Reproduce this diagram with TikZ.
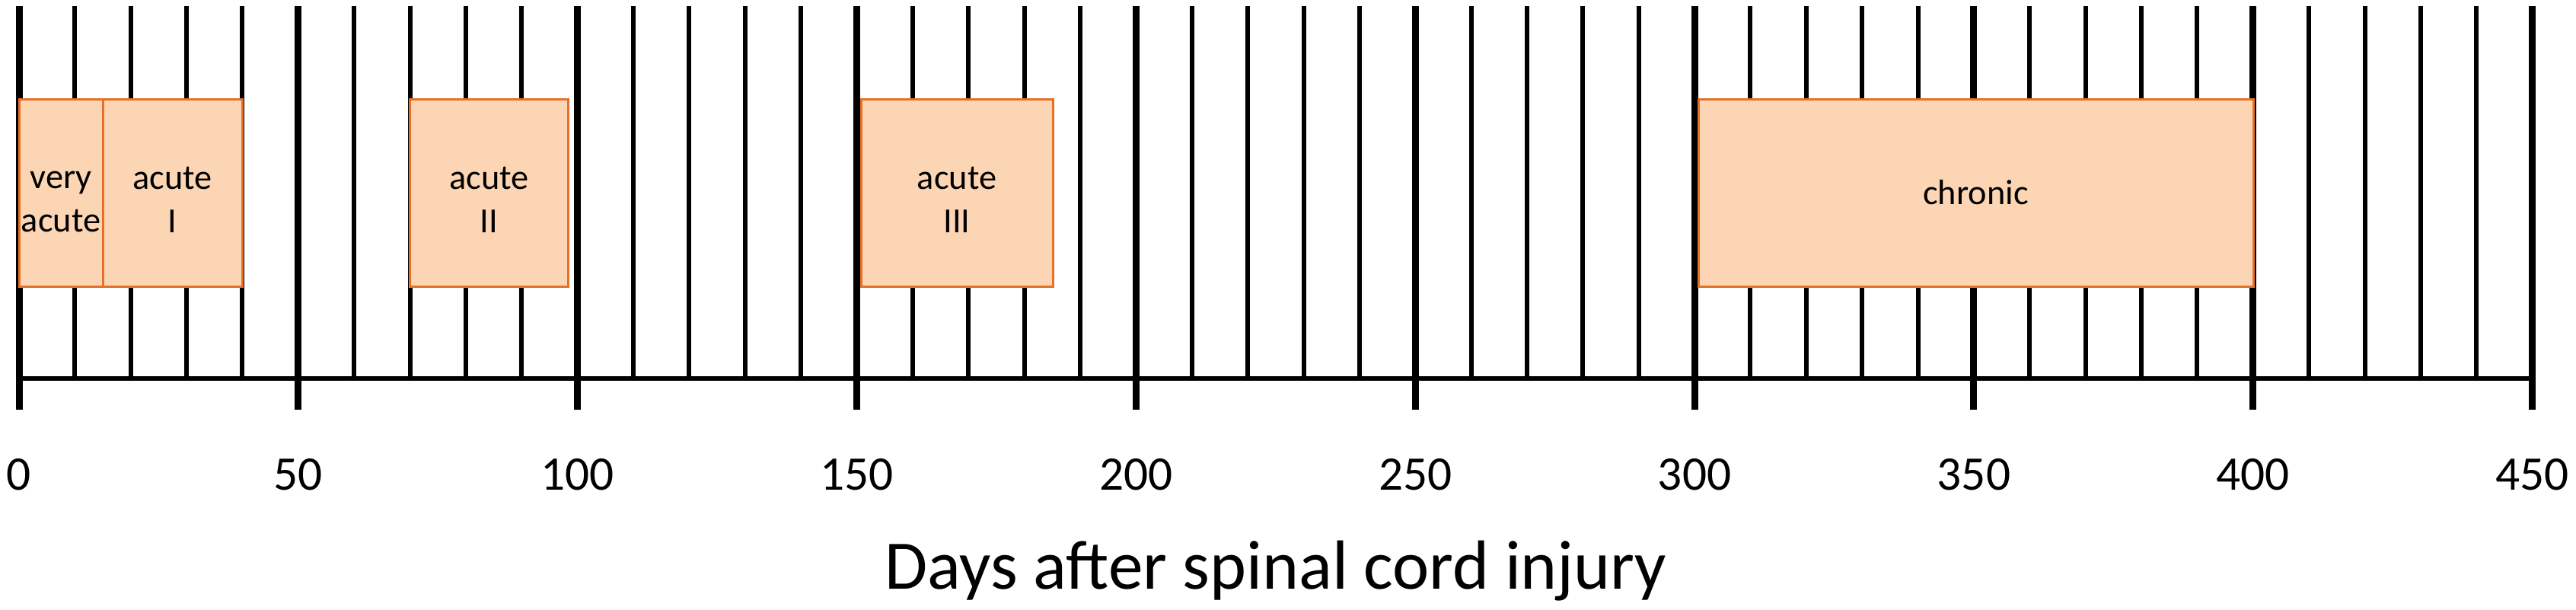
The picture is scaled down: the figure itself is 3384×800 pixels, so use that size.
\documentclass[tikz,border=0pt]{standalone}
\usepackage{fontspec}
\setmainfont{Carlito}
\definecolor{phasefill}{RGB}{252,213,180}
\definecolor{phasedraw}{RGB}{229,113,40}
\newcommand{\toprule}{\rule{0pt}{14.1pt}}
\begin{document}
\begin{tikzpicture}[x=0.3pt,y=-0.3pt,
  majorline/.style={line width=2.7pt},
  minorline/.style={line width=1.8pt},
  axisline/.style={line width=1.8pt},
  phase/.style={draw=phasedraw, fill=phasefill, line width=0.9pt, align=center,
    inner sep=0pt, minimum height=73.8pt, font=\fontsize{13.9}{17.1}\selectfont},
  ticklabel/.style={anchor=base, inner sep=0pt, font=\fontsize{19}{23}\selectfont},
  axistitle/.style={anchor=base, inner sep=0pt, font=\fontsize{27.4}{32}\selectfont}
]
\useasboundingbox (0,0) rectangle (3384,800);
% axis line
\coordinate (axL) at (25,497);
\coordinate (axR) at (3327,497);
\draw[axisline] (axL) -- (axR);
% grid lines and tick labels
\foreach \d in {0,10,...,450} {
  \pgfmathsetmacro\xx{25+\d*7.337}
  \pgfmathtruncatemacro\r{mod(\d,50)}
  \ifnum\r=0
    \draw[majorline] (\xx,8) -- (\xx,538);
    \node[ticklabel] (lbl\d) at (\xx,643) {\d};
  \else
    \draw[minorline] (\xx,8) -- (\xx,497);
  \fi
}
% phase boxes
\node[phase, minimum width=33pt]    (veryacute) at (80,253)     {\toprule very\\acute};
\node[phase, minimum width=54.9pt]  (acuteI)    at (226.5,253)  {\toprule acute\\I};
\node[phase, minimum width=62.43pt] (acuteII)   at (642.65,253) {\toprule acute\\II};
\node[phase, minimum width=75.6pt]  (acuteIII)  at (1257,253)   {\toprule acute\\III};
\node[phase, minimum width=218.7pt] (chronic)   at (2595.5,253) {chronic};
% title
\node[axistitle] (title) at (1676,773) {Days after spinal cord injury};
\end{tikzpicture}
\end{document}
